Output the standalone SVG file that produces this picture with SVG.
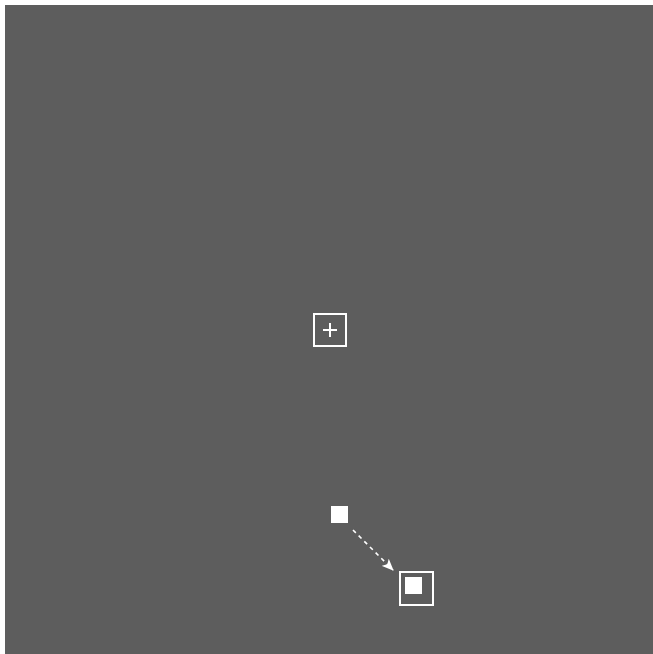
<svg xmlns="http://www.w3.org/2000/svg" width="653" height="654" viewBox="0 0 653 654">
<style>
.box{fill:none;stroke:#fff;stroke-width:2}
.fill{fill:#fff}
.conn{stroke:#fff;stroke-width:1.6;stroke-dasharray:4 4;fill:none}
</style>
<defs>
<marker id="ah" markerWidth="12" markerHeight="10" refX="11" refY="5" orient="auto" markerUnits="userSpaceOnUse">
<path d="M0,0 L12,5 L0,10 L3,5 Z" fill="#fff"/>
</marker>
</defs>
<rect x="0" y="0" width="653" height="654" fill="#fff"/>
<rect x="5" y="5" width="648" height="649" fill="#5d5d5d"/>
<g id="node-plus">
<rect class="box" x="314" y="314" width="32" height="32"/>
<path d="M323,330 H337 M330,323 V337" stroke="#fff" stroke-width="2"/>
</g>
<g id="node-source">
<rect class="fill" x="331" y="506" width="17" height="17"/>
</g>
<g id="node-target">
<rect class="box" x="400" y="572" width="33" height="33"/>
<rect class="fill" x="405" y="577" width="17" height="17"/>
</g>
<g id="connectors">
<path class="conn" d="M353,530 L393,570" marker-end="url(#ah)"/>
</g>
</svg>
